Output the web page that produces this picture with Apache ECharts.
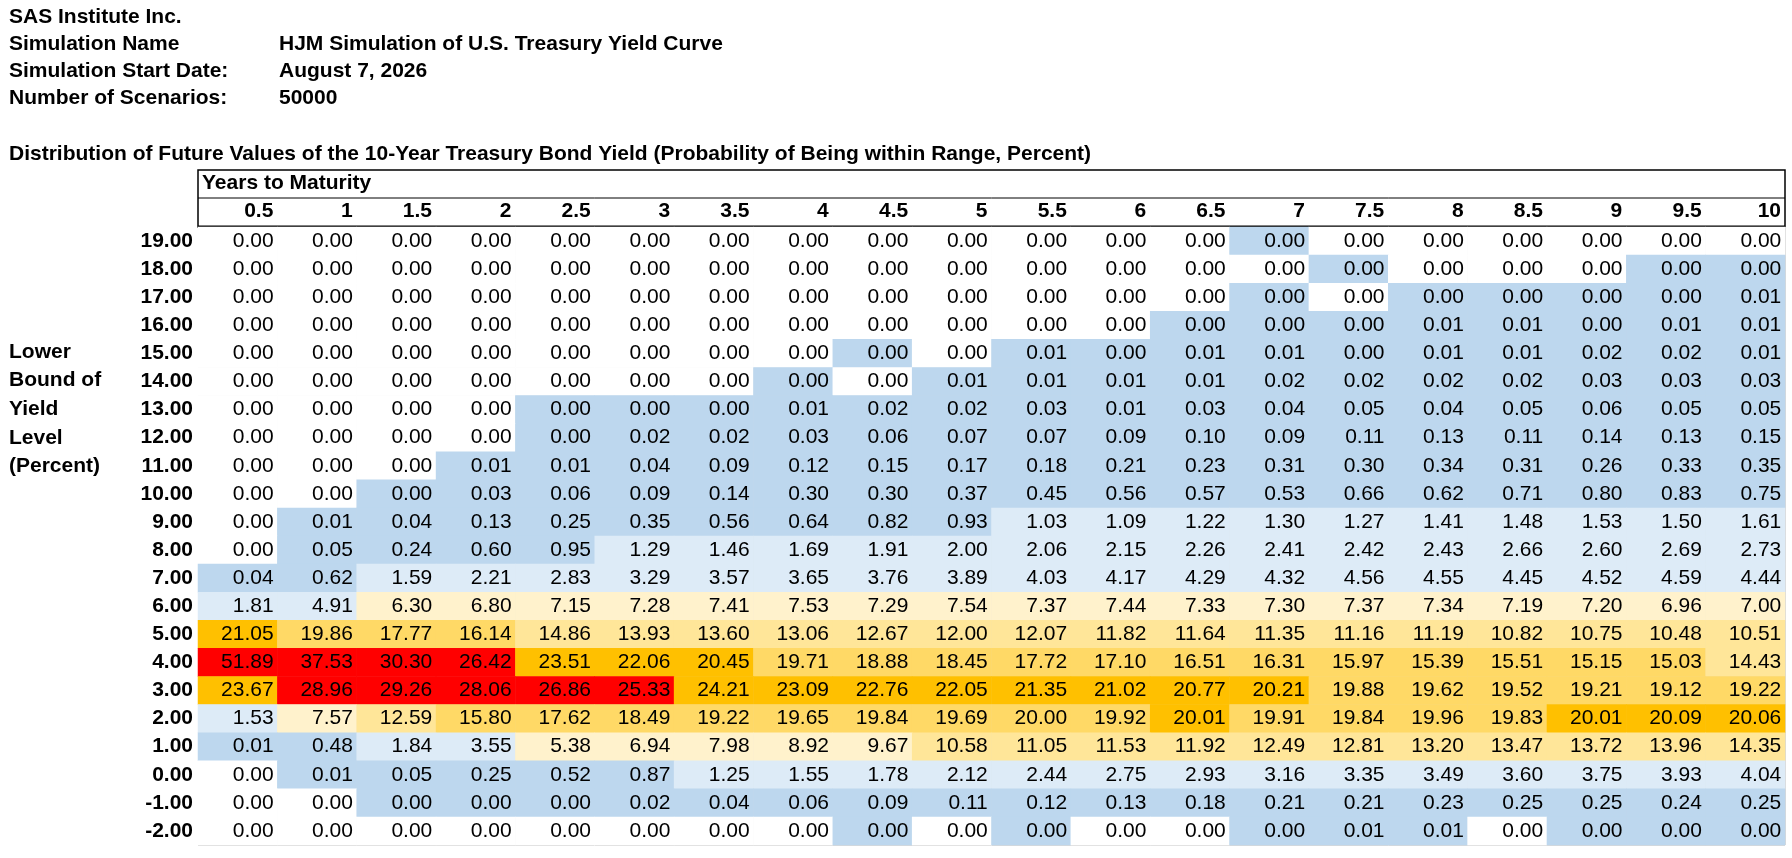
<!DOCTYPE html>
<html><head><meta charset="utf-8">
<script src="https://cdn.jsdelivr.net/npm/echarts@6/dist/echarts.min.js"></script>
<style>html,body{margin:0;padding:0;background:#fff}#c{width:1792px;height:858px}</style>
</head><body><div id="c"></div>
<script>
// Values of 0.001 stand for cells shown as "0.00" but shaded (tiny nonzero probability).
const maturities = ['0.5','1','1.5','2','2.5','3','3.5','4','4.5','5','5.5','6','6.5','7','7.5','8','8.5','9','9.5','10'];
const yieldLevels = ['19.00','18.00','17.00','16.00','15.00','14.00','13.00','12.00','11.00','10.00','9.00','8.00','7.00','6.00','5.00','4.00','3.00','2.00','1.00','0.00','-1.00','-2.00'];
const r19 = [0,0,0,0,0,0,0,0,0,0,0,0,0,0.001,0,0,0,0,0,0];
const r18 = [0,0,0,0,0,0,0,0,0,0,0,0,0,0,0.001,0,0,0,0.001,0.001];
const r17 = [0,0,0,0,0,0,0,0,0,0,0,0,0,0.001,0,0.001,0.001,0.001,0.001,0.01];
const r16 = [0,0,0,0,0,0,0,0,0,0,0,0,0.001,0.001,0.001,0.01,0.01,0.001,0.01,0.01];
const r15 = [0,0,0,0,0,0,0,0,0.001,0,0.01,0.001,0.01,0.01,0.001,0.01,0.01,0.02,0.02,0.01];
const r14 = [0,0,0,0,0,0,0,0.001,0,0.01,0.01,0.01,0.01,0.02,0.02,0.02,0.02,0.03,0.03,0.03];
const r13 = [0,0,0,0,0.001,0.001,0.001,0.01,0.02,0.02,0.03,0.01,0.03,0.04,0.05,0.04,0.05,0.06,0.05,0.05];
const r12 = [0,0,0,0,0.001,0.02,0.02,0.03,0.06,0.07,0.07,0.09,0.10,0.09,0.11,0.13,0.11,0.14,0.13,0.15];
const r11 = [0,0,0,0.01,0.01,0.04,0.09,0.12,0.15,0.17,0.18,0.21,0.23,0.31,0.30,0.34,0.31,0.26,0.33,0.35];
const r10 = [0,0,0.001,0.03,0.06,0.09,0.14,0.30,0.30,0.37,0.45,0.56,0.57,0.53,0.66,0.62,0.71,0.80,0.83,0.75];
const r9 = [0,0.01,0.04,0.13,0.25,0.35,0.56,0.64,0.82,0.93,1.03,1.09,1.22,1.30,1.27,1.41,1.48,1.53,1.50,1.61];
const r8 = [0,0.05,0.24,0.60,0.95,1.29,1.46,1.69,1.91,2.00,2.06,2.15,2.26,2.41,2.42,2.43,2.66,2.60,2.69,2.73];
const r7 = [0.04,0.62,1.59,2.21,2.83,3.29,3.57,3.65,3.76,3.89,4.03,4.17,4.29,4.32,4.56,4.55,4.45,4.52,4.59,4.44];
const r6 = [1.81,4.91,6.30,6.80,7.15,7.28,7.41,7.53,7.29,7.54,7.37,7.44,7.33,7.30,7.37,7.34,7.19,7.20,6.96,7.00];
const r5 = [21.05,19.86,17.77,16.14,14.86,13.93,13.60,13.06,12.67,12.00,12.07,11.82,11.64,11.35,11.16,11.19,10.82,10.75,10.48,10.51];
const r4 = [51.89,37.53,30.30,26.42,23.51,22.06,20.45,19.71,18.88,18.45,17.72,17.10,16.51,16.31,15.97,15.39,15.51,15.15,15.03,14.43];
const r3 = [23.67,28.96,29.26,28.06,26.86,25.33,24.21,23.09,22.76,22.05,21.35,21.02,20.77,20.21,19.88,19.62,19.52,19.21,19.12,19.22];
const r2 = [1.53,7.57,12.59,15.80,17.62,18.49,19.22,19.65,19.84,19.69,19.998,19.92,20.01,19.91,19.84,19.96,19.83,20.01,20.09,20.06];
const r1 = [0.01,0.48,1.84,3.55,5.38,6.94,7.98,8.92,9.67,10.58,11.05,11.53,11.92,12.49,12.81,13.20,13.47,13.72,13.96,14.35];
const r0 = [0,0.01,0.05,0.25,0.52,0.87,1.25,1.55,1.78,2.12,2.44,2.75,2.93,3.16,3.35,3.49,3.60,3.75,3.93,4.04];
const rm1 = [0,0,0.001,0.001,0.001,0.02,0.04,0.06,0.09,0.11,0.12,0.13,0.18,0.21,0.21,0.23,0.25,0.25,0.24,0.25];
const rm2 = [0,0,0,0,0,0,0,0,0.001,0,0.001,0,0,0.001,0.01,0.01,0,0.001,0.001,0.001];
const rows = [r19,r18,r17,r16,r15,r14,r13,r12,r11,r10,r9,r8,r7,r6,r5,r4,r3,r2,r1,r0,rm1,rm2];

const data = [];
rows.forEach((row, yi) => row.forEach((v, xi) => data.push([xi, yi, v])));

const W = 1792, L = 198, R = 7, T = 227, B = 13;
const cellW = (W - L - R) / maturities.length;
const FONT = 'Arial, "Liberation Sans", sans-serif';
const FS = 21;

const chart = echarts.init(document.getElementById('c'));
const bold = {fontFamily: FONT, fontSize: FS, fontWeight: 'bold', fill: '#000'};
const txt = (x, y, s, extra) => ({type: 'text', left: x, top: y, style: Object.assign({text: s}, bold, extra || {})});
chart.setOption({
  animation: false,
  grid: {left: L, right: R, top: T, bottom: B},
  xAxis: {type: 'category', data: maturities, position: 'top',
    axisLine: {show: false}, axisTick: {show: false},
    splitLine: {show: true, interval: 0, lineStyle: {color: '#d9d9d9', width: 1}},
    axisLabel: {interval: 0, fontFamily: FONT, fontSize: FS, fontWeight: 'bold', color: '#000',
      align: 'right', padding: [0, -(cellW / 2 - 4), 0, 0], margin: 5}},
  yAxis: {type: 'category', data: yieldLevels, inverse: true,
    axisLine: {show: false}, axisTick: {show: false},
    splitLine: {show: true, interval: 0, lineStyle: {color: '#d9d9d9', width: 1}},
    axisLabel: {interval: 0, fontFamily: FONT, fontSize: FS, fontWeight: 'bold', color: '#000', margin: 5}},
  visualMap: {type: 'piecewise', show: false, dimension: 2, pieces: [
    {lte: 0.0001, color: '#ffffff'},
    {gt: 0.0001, lt: 1, color: '#bdd7ee'},
    {gte: 1, lt: 5, color: '#ddebf7'},
    {gte: 5, lt: 10, color: '#fff2cc'},
    {gte: 10, lt: 15, color: '#ffe699'},
    {gte: 15, lt: 20, color: '#ffd966'},
    {gte: 20, lt: 25, color: '#ffc000'},
    {gte: 25, color: '#ff0000'}]},
  series: [{type: 'heatmap', data: data, itemStyle: {borderWidth: 0},
    label: {show: true, position: 'insideRight', distance: 4, fontFamily: FONT, fontSize: FS, color: '#000',
      formatter: p => p.value[2].toFixed(2)}}],
  graphic: [
    txt(9, 7, 'SAS Institute Inc.'),
    txt(9, 34, 'Simulation Name'), txt(279, 34, 'HJM Simulation of U.S. Treasury Yield Curve'),
    txt(9, 61, 'Simulation Start Date:'), txt(279, 61, 'August 7, 2026'),
    txt(9, 88, 'Number of Scenarios:'), txt(279, 88, '50000'),
    txt(9, 144, 'Distribution of Future Values of the 10-Year Treasury Bond Yield (Probability of Being within Range, Percent)'),
    {type: 'rect', shape: {x: L, y: 170, width: W - L - R, height: 57}, style: {fill: 'none', stroke: '#000', lineWidth: 1.5}},
    {type: 'line', shape: {x1: L, y1: 198, x2: W - R, y2: 198}, style: {stroke: '#000', lineWidth: 1}},
    {type: 'line', shape: {x1: L, y1: 226.5, x2: W - R, y2: 226.5}, style: {stroke: '#000', lineWidth: 2}},
    txt(L + 4, 173, 'Years to Maturity'),
    txt(9, 342, 'Lower'), txt(9, 370, 'Bound of'), txt(9, 399, 'Yield'), txt(9, 428, 'Level'), txt(9, 456, '(Percent)')
  ]
});
</script></body></html>
